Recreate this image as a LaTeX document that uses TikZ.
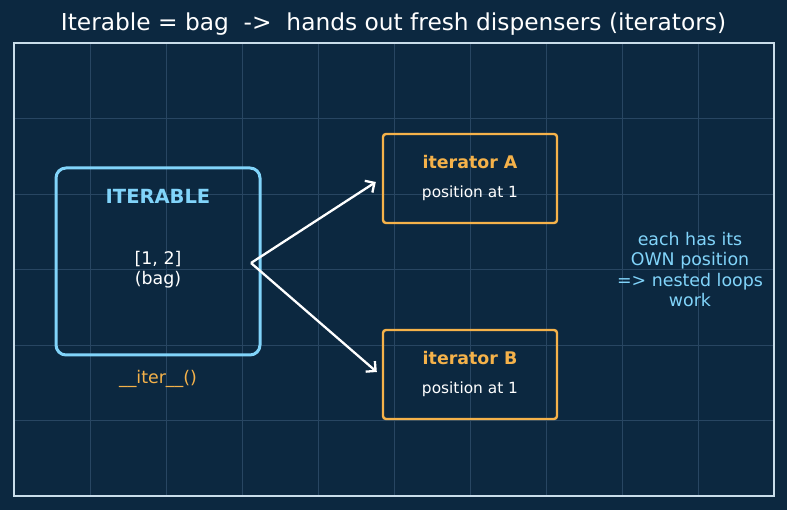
\documentclass[tikz,border=0pt]{standalone}
\usepackage{fontspec}
\setmainfont{DejaVu Sans}
\usetikzlibrary{arrows.meta,positioning}
\definecolor{bgnavy}{HTML}{0C2840}
\definecolor{gridblue}{HTML}{284662}
\definecolor{framegray}{HTML}{C9DDEA}
\definecolor{skyblue}{HTML}{81D4FA}
\definecolor{amber}{HTML}{F5B24A}
\newcommand{\fsz}[2]{\fontsize{#1}{#2}\selectfont}

\begin{document}
\begin{tikzpicture}[
    x=1pt, y=-1pt,
    gridline/.style={gridblue, line width=0.6pt},
    bagbox/.style={rectangle, draw=skyblue, line width=3pt, rounded corners=10pt,
                   minimum width=204pt, minimum height=187pt, inner sep=0pt},
    iterbox/.style={rectangle, draw=amber, line width=2.4pt, rounded corners=3pt,
                    minimum width=174pt, minimum height=89pt, inner sep=0pt},
    plain/.style={text=white, font=\fsz{17.4}{20.3}, align=center, inner sep=0pt},
    head/.style={font=\fsz{17.4}{20.3}\bfseries, text=amber, inner sep=0pt},
    small/.style={font=\fsz{15.4}{18}, text=white, inner sep=0pt},
    arrow/.style={-{Straight Barb[length=7pt, width=14pt]}, white, line width=2.3pt}
]

% Background and frame
\fill[bgnavy] (0,0) rectangle (787,510);
\useasboundingbox (0,0) rectangle (787,510);
\foreach \gx in {90,166,...,698}
  \draw[gridline] (\gx,43) -- (\gx,496);
\foreach \gy in {118.5,194,269.5,345,420.5}
  \draw[gridline] (14,\gy) -- (774,\gy);
\draw[framegray, line width=1.5pt] (14,43) rectangle (774,496);

% Title
\node[text=white, font=\fsz{23.3}{27}, inner sep=0pt] (title) at (393.5,24)
  {Iterable = bag \ -> \ hands out fresh dispensers (iterators)};

% Iterable
\node[bagbox] (iterable) at (158,261.5) {};
\node[font=\fsz{19.5}{22}\bfseries, text=skyblue, inner sep=0pt]
  (itername) at ([yshift=-30pt]iterable.north) {ITERABLE};
\node[plain] (bag) at ([yshift=-8pt]iterable.center) {[1, 2]\\(bag)};
\node[plain, text=amber, below=14pt of iterable] (itercall) {\_\_iter\_\_()};

% Iterators
\node[iterbox] (itA) at (470,178.5) {};
\node[iterbox, below=104.6pt of itA] (itB) {};
\node[head] (itAname) at ([yshift=16.5pt]itA.center) {iterator A};
\node[small] (itApos) at ([yshift=-14.5pt]itA.center) {position at 1};
\node[head] (itBname) at ([yshift=16.5pt]itB.center) {iterator B};
\node[small] (itBpos) at ([yshift=-14.5pt]itB.center) {position at 1};

% Arrows
\coordinate (fork) at (251,263);
\draw[arrow] (fork) -- ([xshift=-6pt, yshift=-3.5pt]itA.west);
\draw[arrow] (fork) -- ([xshift=-5pt, yshift=2.5pt]itB.west);

% Note
\node[plain, text=skyblue] (note) at (690,269.5)
  {each has its\\OWN position\\=> nested loops\\work};

\end{tikzpicture}
\end{document}
